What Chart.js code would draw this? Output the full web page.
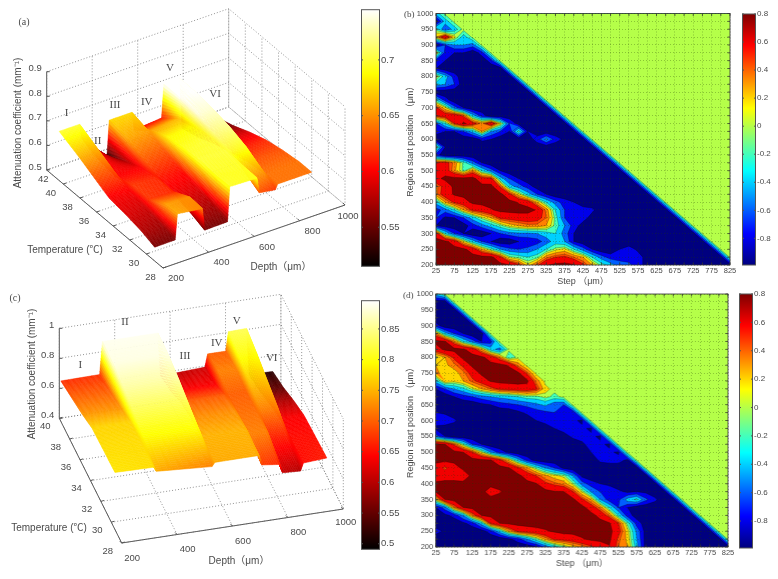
<!DOCTYPE html>
<html>
<head>
<meta charset="utf-8">
<script src="https://cdn.jsdelivr.net/npm/chart.js@4/dist/chart.umd.min.js"></script>
<style>
  html, body { margin: 0; background: #fff; }
  canvas { position: absolute; filter: blur(0.6px); }
</style>
</head>
<body>
<script>
// --- panel (a): surface, one row of heights per temperature
const depthsA = [200, 290, 300, 410, 420, 520, 530, 650, 660, 730, 740, 890]
const tempsA = [40.5, 38.5, 36.5, 34.5, 32.5, 30.5, 29]
const heightsA = [
  [.70, .70, .64, .53, .675, .675, .60, .61, .745, .745, .54, .537],
  [.67, .665, .61, .57, .66, .655, .655, .665, .745, .745, .56, .56],
  [.635, .63, .60, .60, .635, .63, .685, .69, .74, .735, .59, .59],
  [.60, .60, .62, .615, .61, .605, .695, .70, .72, .72, .61, .615],
  [.59, .585, .62, .615, .595, .59, .70, .70, .70, .695, .63, .63],
  [.575, .57, .655, .65, .575, .57, .695, .695, .66, .655, .64, .64],
  [.556, .557, .66, .646, .555, .557, .697, .693, .63, .62, .64, .64]
]
// --- panel (c)
const depthsC = [200, 340, 350, 550, 560, 720, 730, 795, 805, 870, 880, 965]
const tempsC = [39.7, 37.7, 35.7, 33.7, 31.7, 29.3]
const heightsC = [
  [.67, .673, .89, .89, .60, .615, .70, .70, .827, .83, .52, .516],
  [.70, .70, .885, .885, .64, .64, .72, .72, .80, .80, .55, .55],
  [.73, .73, .86, .86, .70, .70, .70, .70, .76, .76, .60, .60],
  [.77, .77, .825, .825, .73, .73, .71, .71, .72, .72, .64, .64],
  [.775, .775, .79, .79, .75, .75, .72, .72, .66, .66, .65, .65],
  [.78, .775, .745, .72, .745, .746, .68, .665, .607, .60, .65, .66]
]
const depthTicks = [200, 400, 600, 800, 1000]
const tempTicksA = [28, 30, 32, 34, 36, 38, 40, 42]
const tempTicksC = [28, 30, 32, 34, 36, 38, 40]
const heightTicksA = [.5, .6, .7, .8, .9]
const heightTicksC = [.4, .6, .8, 1]
const romans = ['I', 'II', 'III', 'IV', 'V', 'VI']

// --- contour panels: x = step, y = region start, values in hundredths, row 200 first
const steps = [25, 50, 75, 100, 125, 150, 175, 200, 225, 250, 275, 300, 325, 350, 375, 400, 425, 450, 475, 500, 525, 550, 575, 600, 625, 650, 675, 700, 725, 750, 775, 800, 825]
const starts = [200, 225, 250, 275, 300, 325, 350, 375, 400, 425, 450, 475, 500, 525, 550, 575, 600, 625, 650, 675, 700, 725, 750, 775, 800, 825, 850, 875, 900, 925, 950, 975, 1000]
const fieldB = [
  [80,80,80,80,80,80,80,80,75,50,10,40,70,78,80,75,50,20,-10,-30,-50,-55,-70,-90,-95,-95,-95,-95,-95,-95,-95,-95,-95],
  [80,80,80,80,80,80,80,50,0,-10,-20,-10,30,45,50,35,20,-20,-50,-70,-70,-70,-70,-90,-95,-95,-95,-95,-95,-95,-95,-95],
  [70,80,80,78,60,20,-10,-40,-55,-60,-55,-40,-20,0,10,-20,-50,-80,-95,-95,-80,-70,-85,-95,-95,-95,-95,-95,-95,-95,-95],
  [80,78,60,10,-30,-60,-80,-95,-95,-80,-75,-70,-50,-30,-40,-80,-95,-95,-95,-95,-95,-95,-95,-95,-95,-95,-95,-95,-95,-95],
  [60,-20,-60,-80,-95,-95,-80,-60,-50,-45,-45,-40,-30,-20,-50,-80,-95,-95,-95,-95,-95,-95,-95,-95,-95,-95,-95,-95,-95],
  [-80,-90,-95,-90,-70,-50,-30,-10,10,20,30,30,20,-10,-40,-70,-90,-95,-95,-95,-95,-95,-95,-95,-95,-95,-95,-95],
  [-60,-85,-80,-60,-30,0,20,50,55,60,60,55,35,-10,-60,-70,-70,-90,-95,-95,-95,-95,-95,-95,-95,-95,-95],
  [-70,-50,-20,20,50,58,70,78,80,80,80,70,30,-20,-60,-70,-70,-75,-95,-95,-95,-95,-95,-95,-95,-95],
  [-30,20,50,60,78,80,80,80,80,70,60,20,-20,-50,-70,-80,-95,-95,-95,-95,-95,-95,-95,-95,-95],
  [30,60,75,80,80,80,80,80,50,10,-30,-60,-80,-95,-95,-95,-95,-95,-95,-95,-95,-95,-95,-95],
  [30,55,78,80,80,80,80,40,-30,-50,-70,-90,-95,-95,-95,-95,-95,-95,-95,-95,-95,-95,-95],
  [65,78,80,80,80,55,50,-30,-60,-80,-95,-95,-95,-95,-95,-95,-95,-95,-95,-95,-95,-95],
  [55,60,25,-10,30,-20,-50,-80,-95,-95,-95,-95,-95,-95,-95,-95,-95,-95,-95,-95,-95],
  [50,55,30,-10,-50,-80,-95,-95,-95,-95,-95,-95,-95,-95,-95,-95,-95,-95,-95,-95],
  [-70,-95,-95,-95,-95,-95,-95,-95,-95,-95,-95,-95,-95,-95,-95,-95,-95,-95,-95],
  [0,-80,-95,-95,-95,-95,-95,-95,-95,-95,-95,-95,-95,-95,-95,-95,-95,-95],
  [-95,-95,-95,-95,-95,-75,-80,-95,-95,-95,-95,-70,-35,-70,-85,-95,-95],
  [-70,-80,-80,-60,-30,20,-40,-60,-80,-10,-80,-95,-95,-95,-95,-95],
  [-60,-20,45,78,55,30,70,10,-60,-90,-95,-95,-95,-95,-95],
  [50,60,65,40,-30,-70,-95,-95,-95,-95,-95,-95,-95,-95],
  [50,10,-50,-80,-95,-95,-95,-95,-95,-95,-95,-95,-95],
  [-20,-70,-95,-95,-95,-95,-95,-95,-95,-95,-95,-95],
  [-95,-95,-95,-95,-95,-95,-95,-95,-95,-95,-95],
  [-30,-40,-60,-95,-95,-95,-95,-95,-95,-95],
  [10,-30,-70,-95,-95,-95,-95,-95,-95],
  [-80,-95,-95,-95,-95,-95,-95,-95],
  [-70,-80,-95,-95,-95,-95,-70],
  [20,-70,-80,-80,-95,-70],
  [-95,-60,-40,-40,-50],
  [20,70,10,-30],
  [-10,-60,-30],
  [-95,-30],
  [-30]
]
const fieldD = [
  [-95,-95,-95,-95,-95,-95,-95,-95,-95,-95,-95,-85,-55,-30,-10,10,25,40,55,70,35,20,-30,-90,-95,-95,-95,-95,-95,-95,-95,-95,-95],
  [-95,-95,-95,-95,-95,-95,-95,-95,-85,-70,-40,-10,25,50,55,60,70,78,80,78,40,15,-40,-90,-95,-95,-95,-95,-95,-95,-95,-95],
  [-70,-85,-95,-95,-95,-90,-70,-30,20,50,60,65,70,75,80,80,80,80,80,80,55,10,-45,-90,-95,-95,-95,-95,-95,-95,-95],
  [-95,-95,-90,-85,-70,-30,50,72,78,80,80,80,80,80,80,80,80,80,80,75,45,-10,-70,-90,-95,-95,-95,-95,-95,-95],
  [-95,-85,-75,-40,30,72,78,80,80,80,80,80,80,80,80,80,80,80,65,35,-20,-70,-90,-95,-95,-95,-95,-95,-95],
  [-80,-50,30,72,80,80,80,80,80,80,80,80,80,80,80,80,80,60,30,-20,-60,-80,-95,-95,-95,-95,-95,-95],
  [10,72,80,80,80,80,80,80,80,80,80,80,80,80,80,78,50,20,-40,-70,-65,-30,-15,-55,-75,-95,-95],
  [74,80,80,80,80,80,60,70,80,80,80,80,80,74,73,48,5,-40,-60,-65,-75,-85,-80,-85,-95,-95],
  [78,80,80,80,80,80,80,80,80,80,80,74,50,40,30,0,-50,-70,-80,-85,-95,-95,-95,-95,-95],
  [55,60,60,55,80,80,80,80,80,80,60,45,25,10,0,-40,-85,-95,-95,-95,-95,-95,-95,-95],
  [60,40,60,78,80,80,80,80,74,50,25,-10,-40,-60,-85,-95,-95,-95,-95,-95,-95,-95,-95],
  [80,80,80,80,80,78,74,50,15,-30,-70,-90,-95,-95,-95,-95,-95,-95,-75,-70,-70,-85],
  [80,80,78,72,45,5,-40,-70,-85,-95,-95,-95,-95,-95,-95,-95,-95,-80,-65,-75,-85],
  [78,72,40,-10,-60,-80,-95,-95,-95,-95,-95,-95,-95,-95,-95,-95,-85,-70,-75,-85],
  [-50,-80,-95,-95,-95,-95,-95,-95,-95,-95,-95,-95,-95,-95,-90,-75,-70,-75,-85],
  [-85,-95,-95,-95,-95,-95,-95,-95,-95,-95,-95,-95,-95,-80,-70,-75,-75,-85],
  [-70,-60,-75,-95,-95,-95,-95,-95,-95,-95,-95,-80,-70,-65,-70,-75,-85],
  [-80,-85,-95,-95,-95,-95,-95,-95,-95,-85,-75,-70,-65,-60,-70,-80],
  [-95,-95,-95,-95,-95,-85,-80,-70,-65,-60,-55,-45,-35,-55,-60],
  [-95,-95,-80,-70,-60,-50,-40,-35,-30,-20,-10,-10,0,-10],
  [-80,-60,-40,-25,0,20,35,50,55,60,60,50,10],
  [-30,20,10,20,40,55,75,80,80,80,78,30],
  [25,12,10,30,55,78,80,80,80,78,40],
  [20,15,30,50,78,80,80,80,70,30],
  [0,20,50,80,80,78,60,30,-20],
  [60,78,80,75,60,20,-30,-50],
  [78,75,30,-20,-50,-80,-70],
  [30,-30,-60,-80,-95,-95],
  [-70,-95,-95,-95,-95],
  [-95,-95,-95,-95],
  [-95,-95,-95],
  [-95,-95],
  [-30]
]
const jetTicks = [.8, .6, .4, .2, 0, -.2, -.4, -.6, -.8]
const hotTicksA = [.7, .65, .6, .55]
const hotTicksC = [.85, .8, .75, .7, .65, .6, .55, .5]
// filled contour bands: lower bound of each band and the value its colour is taken from
const bandLevels = [-.8, -.6, -.4, -.2, -.05, .05, .2, .35, .45, .72]
const bandColors = [-.8, -.6, -.4, -.2, 0, .2, .35, .45, .6, .8]

const SANS = "'Liberation Sans', 'Noto Sans CJK SC', sans-serif"
const SERIF = "'Liberation Serif', serif"
const INK = '#4a4a4a'

const clamp = v => Math.max(0, Math.min(1, v))
function hot(f) {
  const r = clamp(f / .375), g = clamp((f - .375) / .375), b = clamp((f - .75) / .25)
  return `rgb(${r * 255 | 0},${g * 255 | 0},${b * 255 | 0})`
}
function jet(f) {
  const r = clamp(Math.min(4 * f - 1.5, 4.5 - 4 * f))
  const g = clamp(Math.min(4 * f - .5, 3.5 - 4 * f))
  const b = clamp(Math.min(4 * f + .5, 2.5 - 4 * f))
  return `rgb(${r * 255 | 0},${g * 255 | 0},${b * 255 | 0})`
}

function makeCanvas(left, top, width, height) {
  const c = document.createElement('canvas')
  c.width = width
  c.height = height
  c.style.left = left + 'px'
  c.style.top = top + 'px'
  c.style.width = width + 'px'
  c.style.height = height + 'px'
  document.body.appendChild(c)
  return c
}

const baseOptions = {
  responsive: false,
  animation: false,
  devicePixelRatio: 1,
  plugins: { legend: { display: false }, tooltip: { enabled: false } }
}

// ---------- 3D surface, projected onto a page-coordinate scatter chart
function surfacePanel(p) {
  const P = (d, t, z) => {
    const u = (d - 200) / 800, v = (t - 28) / (p.tempMax - 28), h = (z - p.zMin) / (p.zMax - p.zMin)
    return {
      x: p.origin[0] + u * p.depthVec[0] + v * p.tempVec[0],
      y: p.origin[1] + u * p.depthVec[1] + v * p.tempVec[1] - h * p.heightPx
    }
  }
  const datasets = []
  const line = (pts, dash, color) => datasets.push({
    data: pts, showLine: true, pointRadius: 0, borderWidth: dash ? .8 : 1,
    borderColor: color, borderDash: dash || [], clip: false
  })
  const dotted = [1, 2], gray = '#777', axis = '#555'
  const tMax = p.tempMax, zMin = p.zMin, zMax = p.zMax
  p.depthTicks.forEach(d => {
    line([P(d, 28, zMin), P(d, tMax, zMin), P(d, tMax, zMax)], dotted, gray)
  })
  p.tempTicks.forEach(t => {
    line([P(200, t, zMin), P(1000, t, zMin), P(1000, t, zMax)], dotted, gray)
  })
  p.heightTicks.forEach(z => {
    line([P(200, tMax, z), P(1000, tMax, z), P(1000, 28, z)], dotted, gray)
  })
  // surface points are kept in a dataset too, the plugin paints them row by row
  const surfacePoints = []
  p.temps.forEach((t, i) => p.depths.forEach((d, j) => surfacePoints.push({ ...P(d, t, p.heights[i][j]), d, t, z: p.heights[i][j] })))
  datasets.push({ data: surfacePoints, pointRadius: 0, showLine: false })
  // solid axes go over the dotted grid
  line([P(200, tMax, zMin), P(200, tMax, zMax)], null, axis)
  line([P(200, tMax, zMin), P(200, 28, zMin)], null, axis)
  line([P(200, 28, zMin), P(1000, 28, zMin)], null, axis)

  const surfacePlugin = {
    id: 'surface',
    afterDatasetsDraw(chart) {
      const { ctx, scales: { x, y } } = chart
      const nT = p.temps.length, nD = p.depths.length
      const at = (i, j) => p.heights[i][j]
      const frac = v => (v - p.clim[0]) / (p.clim[1] - p.clim[0])
      const SUB_T = 16, SUB_D = 10
      const px = (d, t, z) => { const q = P(d, t, z); return [x.getPixelForValue(q.x), y.getPixelForValue(q.y)] }
      ctx.save()
      ctx.lineWidth = .5
      for (let i = 0; i < nT - 1; i++) {
        for (let j = nD - 2; j >= 0; j--) {
          for (let a = 0; a < SUB_T; a++) {
            for (let b = SUB_D - 1; b >= 0; b--) {
              const corner = (aa, bb) => {
                const ta = aa / SUB_T, tb = bb / SUB_D
                const z = (1 - ta) * ((1 - tb) * at(i, j) + tb * at(i, j + 1)) + ta * ((1 - tb) * at(i + 1, j) + tb * at(i + 1, j + 1))
                const d = p.depths[j] + tb * (p.depths[j + 1] - p.depths[j])
                const t = p.temps[i] + ta * (p.temps[i + 1] - p.temps[i])
                return { z, q: px(d, t, z) }
              }
              const c = [corner(a, b), corner(a, b + 1), corner(a + 1, b + 1), corner(a + 1, b)]
              const col = hot(frac((c[0].z + c[1].z + c[2].z + c[3].z) / 4))
              ctx.fillStyle = col
              ctx.strokeStyle = col
              ctx.beginPath()
              c.forEach((k, n) => n ? ctx.lineTo(k.q[0], k.q[1]) : ctx.moveTo(k.q[0], k.q[1]))
              ctx.closePath()
              ctx.fill()
              ctx.stroke()
            }
          }
        }
      }
      // tick marks on the solid axes
      ctx.strokeStyle = axis
      ctx.lineWidth = 1
      const seg = (a, b) => { ctx.beginPath(); ctx.moveTo(x.getPixelForValue(a.x), y.getPixelForValue(a.y)); ctx.lineTo(x.getPixelForValue(b.x), y.getPixelForValue(b.y)); ctx.stroke() }
      p.heightTicks.forEach(z => { const q = P(200, tMax, z); seg(q, { x: q.x + 3, y: q.y }) })
      p.tempTicks.forEach(t => { const q = P(200, t, zMin); seg(q, { x: q.x + 3, y: q.y - 1 }) })
      p.depthTicks.forEach(d => { const q = P(d, 28, zMin); seg(q, { x: q.x - 2, y: q.y - 2 }) })

      // texts
      const text = (s, tx, ty, font, rot, align) => {
        ctx.save()
        ctx.translate(x.getPixelForValue(tx), y.getPixelForValue(ty))
        if (rot) ctx.rotate(rot)
        ctx.font = font
        ctx.fillStyle = INK
        ctx.textAlign = align || 'center'
        ctx.textBaseline = 'middle'
        ctx.fillText(s, 0, 0)
        ctx.restore()
      }
      const tickFont = '9.5px ' + SANS, titleFont = '10px ' + SANS
      p.heightTicks.forEach(z => {
        const q = P(200, tMax, z)
        text(String(z), q.x - 5, q.y - 3, tickFont, 0, 'right')
      })
      p.tempTicks.forEach(t => {
        const q = P(200, t, zMin), n = p.nudge[t] || [0, 0]
        text(String(t), q.x + p.tempOffset[0] + n[0], q.y + p.tempOffset[1] + n[1], tickFont)
      })
      p.depthTicks.forEach(d => {
        const q = P(d, 28, zMin), n = d === 1000 ? p.nudge1000 : [0, 0]
        text(String(d), q.x + p.depthOffset[0] + n[0], q.y + p.depthOffset[1] + n[1], tickFont)
      })
      text('Depth（μm）', p.depthTitle[0], p.depthTitle[1], titleFont)
      text('Temperature (℃)', p.tempTitle[0], p.tempTitle[1], titleFont)
      text('Attenuation coefficient (mm⁻¹)', p.zTitle[0], p.zTitle[1], '10px ' + SANS, -Math.PI / 2)
      romans.forEach((r, n) => text(r, p.romanAt[n][0], p.romanAt[n][1], '11px ' + SERIF))
      text(p.tag, p.tagAt[0], p.tagAt[1], '10px ' + SERIF)
      ctx.restore()
    }
  }
  const c = makeCanvas(0, p.top, 395, p.height)
  new Chart(c, {
    type: 'scatter',
    data: { datasets },
    plugins: [surfacePlugin],
    options: {
      ...baseOptions,
      layout: { padding: 0 },
      scales: {
        x: { type: 'linear', display: false, min: 0, max: 395 },
        y: { type: 'linear', display: false, min: p.top, max: p.top + p.height, reverse: true }
      }
    }
  })
}

// ---------- filled contour map from a grid, through the chart scales
function contourPanel(p) {
  const valueAt = (i, j) => {
    const row = p.field[j]
    return (row && row[i] !== undefined) ? row[i] / 100 : 0
  }
  const points = []
  p.starts.forEach((r, j) => p.steps.forEach((s, i) => points.push({ x: s, y: r, v: valueAt(i, j) })))

  const contourPlugin = {
    id: 'contour',
    beforeDatasetsDraw(chart) {
      const { ctx, chartArea: a, scales: { x, y } } = chart
      const vx = p.steps.map(s => x.getPixelForValue(s))
      const vy = p.starts.map(r => y.getPixelForValue(r))
      const cMin = p.clim[0], cSpan = p.clim[1] - p.clim[0]
      ctx.save()
      ctx.fillStyle = jet(0)
      ctx.fillRect(a.left, a.top, a.width, a.height)
      const lines = new Path2D()
      bandLevels.forEach((L, n) => {
        const path = new Path2D()
        for (let j = 0; j < vy.length - 1; j++) {
          for (let i = 0; i < vx.length - 1; i++) {
            const corners = [
              [vx[i], vy[j], valueAt(i, j)], [vx[i + 1], vy[j], valueAt(i + 1, j)],
              [vx[i + 1], vy[j + 1], valueAt(i + 1, j + 1)], [vx[i], vy[j + 1], valueAt(i, j + 1)]
            ]
            const poly = [], cross = []
            corners.forEach((c0, k) => {
              const c1 = corners[(k + 1) % 4]
              if (c0[2] >= L) poly.push(c0)
              if ((c0[2] >= L) !== (c1[2] >= L)) {
                const f = (L - c0[2]) / (c1[2] - c0[2])
                const q = [c0[0] + f * (c1[0] - c0[0]), c0[1] + f * (c1[1] - c0[1])]
                poly.push(q)
                cross.push(q)
              }
            })
            if (poly.length > 2) {
              poly.forEach((q, m) => m ? path.lineTo(q[0], q[1]) : path.moveTo(q[0], q[1]))
              path.closePath()
            }
            for (let m = 0; m + 1 < cross.length; m += 2) {
              lines.moveTo(cross[m][0], cross[m][1])
              lines.lineTo(cross[m + 1][0], cross[m + 1][1])
            }
          }
        }
        ctx.fillStyle = jet((bandColors[n] - cMin) / cSpan)
        ctx.fill(path)
      })
      ctx.strokeStyle = 'rgba(0,0,0,.42)'
      ctx.lineWidth = .6
      ctx.stroke(lines)
      ctx.restore()
    },
    afterDraw(chart) {
      const { ctx, chartArea: a, scales: { x, y } } = chart
      ctx.save()
      ctx.strokeStyle = '#333'
      ctx.lineWidth = .8
      ctx.strokeRect(a.left, a.top, a.width, a.height)
      ctx.beginPath()
      x.ticks.forEach(t => {
        const q = x.getPixelForValue(t.value)
        ctx.moveTo(q, a.top); ctx.lineTo(q, a.top + 2.5)
        ctx.moveTo(q, a.bottom); ctx.lineTo(q, a.bottom - 2.5)
      })
      y.ticks.forEach(t => {
        const q = y.getPixelForValue(t.value)
        ctx.moveTo(a.left, q); ctx.lineTo(a.left + 2.5, q)
        ctx.moveTo(a.right, q); ctx.lineTo(a.right - 2.5, q)
      })
      ctx.stroke()
      ctx.font = '9px ' + SERIF
      ctx.fillStyle = INK
      ctx.textBaseline = 'middle'
      ctx.fillText(p.tag, p.tagAt[0] - p.left, p.tagAt[1] - p.top)
      ctx.restore()
    }
  }
  const gridOpts = { z: 1, color: 'rgba(30,60,0,.42)', lineWidth: .7, drawTicks: false }
  const borderOpts = { dash: [1, 2], display: false }
  const c = makeCanvas(p.left, p.top, p.areaLeft - p.left + p.areaWidth + 8, p.areaTop - p.top + p.areaHeight + 26)
  new Chart(c, {
    type: 'scatter',
    data: { datasets: [{ data: points, pointRadius: 0, showLine: false }] },
    plugins: [contourPlugin],
    options: {
      ...baseOptions,
      layout: { padding: { top: p.areaTop - p.top, right: 8, left: 0, bottom: 0 } },
      scales: {
        x: {
          type: 'linear', min: 25, max: 825,
          afterFit(s) { s.height = 26 },
          grid: gridOpts, border: borderOpts,
          ticks: {
            stepSize: 25, autoSkip: false, maxRotation: 0, padding: 1.5, color: INK,
            font: { size: 7.5, family: SANS },
            callback: v => (v - 25) % 50 === 0 ? String(v) : ''
          },
          title: { display: true, text: 'Step （μm）', color: INK, padding: { top: 0, bottom: 4 }, font: { size: 9, family: SANS } }
        },
        y: {
          type: 'linear', min: 200, max: 1000,
          afterFit(s) { s.width = p.areaLeft - p.left },
          grid: gridOpts, border: borderOpts,
          ticks: {
            stepSize: 25, autoSkip: false, padding: 2.5, color: INK,
            font: { size: 7.5, family: SANS },
            callback: v => v % 50 === 0 ? String(v) : ''
          },
          title: { display: true, text: 'Region start position （μm）', color: INK, padding: { top: 10, bottom: 0 }, font: { size: 9, family: SANS } }
        }
      }
    }
  })
}

// ---------- colour bar: one floating bar with a gradient
function colorBar(p) {
  const c = makeCanvas(p.left, p.top - 6, p.width + 32, p.height + 12)
  new Chart(c, {
    type: 'bar',
    data: {
      labels: [''],
      datasets: [{
        data: [[p.min, p.max]],
        barPercentage: 1,
        categoryPercentage: 1,
        backgroundColor(ctx) {
          const a = ctx.chart.chartArea
          if (!a) return 'transparent'
          const g = ctx.chart.ctx.createLinearGradient(0, a.bottom, 0, a.top)
          for (let i = 0; i <= 64; i++) g.addColorStop(i / 64, p.map(i / 64))
          return g
        }
      }]
    },
    plugins: [{
      id: 'barFrame',
      afterDraw(chart) {
        const { ctx, chartArea: a, scales: { y } } = chart
        ctx.save()
        ctx.strokeStyle = '#555'
        ctx.lineWidth = 1
        ctx.strokeRect(a.left + .5, a.top, a.width - 1, a.height)
        ctx.beginPath()
        y.ticks.forEach(t => {
          const q = y.getPixelForValue(t.value)
          ctx.moveTo(a.left, q); ctx.lineTo(a.left + 2, q)
          ctx.moveTo(a.right, q); ctx.lineTo(a.right - 2, q)
        })
        ctx.stroke()
        ctx.restore()
      }
    }],
    options: {
      ...baseOptions,
      layout: { padding: { top: 6, bottom: 6, left: 0, right: 0 } },
      scales: {
        x: { display: false },
        y: {
          position: 'right', min: p.min, max: p.max,
          afterFit(s) { s.width = 32 },
          afterBuildTicks(s) { s.ticks = p.ticks.map(value => ({ value })) },
          grid: { display: false, drawTicks: false },
          border: { display: false },
          ticks: { padding: 1, color: INK, font: { size: p.fontSize, family: SANS }, callback: v => String(v) }
        }
      }
    }
  })
}

surfacePanel({
  top: 0, height: 285, tag: '(a)', tagAt: [24, 22],
  depths: depthsA, temps: tempsA, heights: heightsA,
  depthTicks, tempTicks: tempTicksA, heightTicks: heightTicksA,
  tempMax: 42, zMin: .5, zMax: .9, clim: [.515, .745],
  origin: [163, 268], depthVec: [182, -63], tempVec: [-116.3, -98], heightPx: 98.3,
  tempOffset: [-12.5, 9], depthOffset: [13, 10.5], nudge: { 42: [9, 0] }, nudge1000: [-10, 1],
  depthTitle: [281, 267.7], tempTitle: [65, 250], zTitle: [18.7, 123],
  romanAt: [[66.7, 112.7], [97.7, 140.7], [115, 105], [146.7, 101.7], [170, 68.3], [215, 94.3]]
})
surfacePanel({
  top: 285, height: 294, tag: '(c)', tagAt: [15, 298],
  depths: depthsC, temps: tempsC, heights: heightsC,
  depthTicks, tempTicks: tempTicksC, heightTicks: heightTicksC,
  tempMax: 40, zMin: .4, zMax: 1, clim: [.491, .896],
  origin: [121.7, 543], depthVec: [221.6, -34], tempVec: [-62.4, -124.7], heightPx: 90,
  tempOffset: [-14, 8], depthOffset: [10.5, 15], nudge: {}, nudge1000: [-8, -2],
  depthTitle: [239, 561.7], tempTitle: [49, 528.3], zTitle: [32, 374],
  romanAt: [[80.3, 365], [125, 321.7], [185, 356], [216.7, 343.3], [236.7, 320.7], [271.7, 357.7]]
})
contourPanel({
  field: fieldB, steps, starts, clim: [-.99, .8], tag: '(b)', tagAt: [404, 15],
  left: 395, top: 0, areaLeft: 436, areaTop: 13.5, areaWidth: 294, areaHeight: 251.5
})
contourPanel({
  field: fieldD, steps, starts, clim: [-.99, .8], tag: '(d)', tagAt: [403, 296],
  left: 395, top: 285, areaLeft: 435.7, areaTop: 294, areaWidth: 292, areaHeight: 253
})
colorBar({ left: 361, top: 9, width: 19, height: 258, min: .515, max: .745, ticks: hotTicksA, map: hot, fontSize: 9.5 })
colorBar({ left: 361, top: 300, width: 19, height: 250, min: .491, max: .896, ticks: hotTicksC, map: hot, fontSize: 9.5 })
colorBar({ left: 742, top: 13.5, width: 14, height: 251.5, min: -.99, max: .8, ticks: jetTicks, map: jet, fontSize: 8 })
colorBar({ left: 739, top: 294, width: 14, height: 254, min: -.99, max: .8, ticks: jetTicks, map: jet, fontSize: 8 })
</script>
</body>
</html>
